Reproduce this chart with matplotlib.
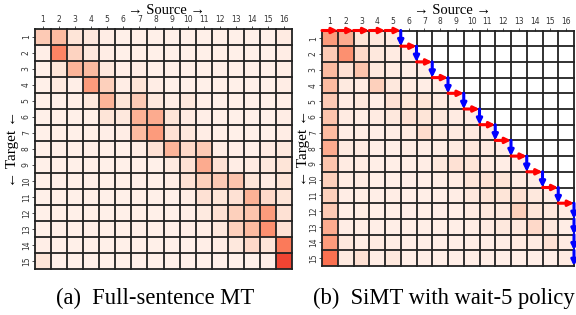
import numpy as np
import matplotlib
matplotlib.use("Agg")
import matplotlib.pyplot as plt

# ---------------- data ----------------
src_labels = [str(i) for i in range(1, 17)]
tgt_labels = [str(i) for i in range(1, 16)]

full_attn = [
    [0.20, 0.25, 0.10, 0.08, 0.05, 0.03, 0.03, 0.03, 0.03, 0.03, 0.03, 0.03, 0.03, 0.03, 0.03, 0.06],
    [0.04, 0.42, 0.17, 0.08, 0.05, 0.03, 0.03, 0.03, 0.03, 0.03, 0.03, 0.03, 0.03, 0.03, 0.03, 0.05],
    [0.03, 0.10, 0.27, 0.25, 0.08, 0.04, 0.05, 0.03, 0.03, 0.03, 0.03, 0.03, 0.03, 0.03, 0.03, 0.05],
    [0.03, 0.07, 0.04, 0.35, 0.18, 0.05, 0.10, 0.05, 0.03, 0.03, 0.03, 0.03, 0.03, 0.03, 0.03, 0.05],
    [0.03, 0.03, 0.04, 0.08, 0.27, 0.10, 0.20, 0.08, 0.05, 0.08, 0.04, 0.03, 0.03, 0.03, 0.03, 0.04],
    [0.03, 0.03, 0.03, 0.03, 0.10, 0.08, 0.28, 0.30, 0.10, 0.06, 0.04, 0.03, 0.03, 0.03, 0.03, 0.05],
    [0.03, 0.03, 0.03, 0.03, 0.04, 0.05, 0.25, 0.35, 0.12, 0.08, 0.05, 0.03, 0.03, 0.03, 0.03, 0.05],
    [0.03, 0.03, 0.03, 0.03, 0.03, 0.03, 0.05, 0.12, 0.27, 0.15, 0.20, 0.05, 0.04, 0.03, 0.06, 0.08],
    [0.03, 0.03, 0.03, 0.03, 0.03, 0.03, 0.03, 0.03, 0.07, 0.12, 0.30, 0.12, 0.05, 0.06, 0.08, 0.10],
    [0.03, 0.03, 0.03, 0.03, 0.03, 0.03, 0.03, 0.03, 0.05, 0.12, 0.18, 0.20, 0.22, 0.10, 0.06, 0.10],
    [0.03, 0.03, 0.03, 0.03, 0.03, 0.03, 0.03, 0.03, 0.03, 0.05, 0.12, 0.10, 0.12, 0.28, 0.15, 0.10],
    [0.03, 0.03, 0.03, 0.03, 0.03, 0.03, 0.03, 0.03, 0.03, 0.04, 0.07, 0.12, 0.18, 0.22, 0.35, 0.12],
    [0.03, 0.03, 0.03, 0.03, 0.03, 0.03, 0.03, 0.03, 0.03, 0.04, 0.05, 0.08, 0.18, 0.25, 0.38, 0.12],
    [0.04, 0.03, 0.03, 0.03, 0.03, 0.03, 0.03, 0.03, 0.03, 0.03, 0.04, 0.05, 0.08, 0.15, 0.10, 0.45],
    [0.10, 0.03, 0.03, 0.03, 0.03, 0.03, 0.03, 0.03, 0.03, 0.03, 0.03, 0.03, 0.03, 0.03, 0.04, 0.60],
]

N = None
simt_attn = [
    [0.35, 0.30, 0.10, 0.08, 0.06, N, N, N, N, N, N, N, N, N, N, N],
    [0.20, 0.38, 0.15, 0.08, 0.06, 0.05, N, N, N, N, N, N, N, N, N, N],
    [0.25, 0.12, 0.22, 0.08, 0.06, 0.05, 0.05, N, N, N, N, N, N, N, N, N],
    [0.25, 0.07, 0.06, 0.18, 0.08, 0.06, 0.05, 0.04, N, N, N, N, N, N, N, N],
    [0.20, 0.06, 0.08, 0.05, 0.12, 0.10, 0.10, 0.06, 0.05, N, N, N, N, N, N, N],
    [0.22, 0.06, 0.05, 0.06, 0.08, 0.12, 0.10, 0.08, 0.06, 0.05, N, N, N, N, N, N],
    [0.25, 0.05, 0.05, 0.04, 0.05, 0.06, 0.14, 0.08, 0.07, 0.07, 0.05, N, N, N, N, N],
    [0.30, 0.07, 0.06, 0.04, 0.04, 0.05, 0.05, 0.05, 0.07, 0.08, 0.06, 0.05, N, N, N, N],
    [0.22, 0.06, 0.06, 0.04, 0.04, 0.04, 0.05, 0.08, 0.12, 0.10, 0.06, 0.05, 0.05, N, N, N],
    [0.18, 0.06, 0.06, 0.04, 0.04, 0.04, 0.04, 0.05, 0.06, 0.10, 0.12, 0.10, 0.06, 0.05, N, N],
    [0.18, 0.05, 0.05, 0.04, 0.05, 0.04, 0.04, 0.04, 0.05, 0.08, 0.10, 0.10, 0.12, 0.08, 0.05, N],
    [0.20, 0.05, 0.05, 0.04, 0.04, 0.04, 0.04, 0.04, 0.04, 0.06, 0.08, 0.08, 0.18, 0.10, 0.08, 0.06],
    [0.30, 0.05, 0.05, 0.04, 0.04, 0.04, 0.04, 0.04, 0.04, 0.05, 0.06, 0.08, 0.08, 0.15, 0.08, 0.05],
    [0.35, 0.08, 0.05, 0.06, 0.05, 0.04, 0.04, 0.04, 0.04, 0.04, 0.04, 0.05, 0.06, 0.06, 0.12, 0.06],
    [0.48, 0.07, 0.12, 0.05, 0.08, 0.04, 0.04, 0.04, 0.04, 0.04, 0.04, 0.04, 0.04, 0.04, 0.04, 0.06],
]

wait_k = 5
titles = ["(a)  Full-sentence MT", "(b)  SiMT with wait-5 policy"]

# ---------------- plotting ----------------
W, H = 576, 315
fig = plt.figure(figsize=(W / 100, H / 100), dpi=100)
serif = ["Liberation Serif", "DejaVu Serif"]
cmap = plt.get_cmap("Reds")


def px_axes(x0, y0, x1, y1):
    return fig.add_axes([x0 / W, 1 - y1 / H, (x1 - x0) / W, (y1 - y0) / H])


def draw_heat(ax, data, label_x_px, ax_x0, ax_w):
    arr = np.array([[np.nan if v is None else v for v in row] for row in data], dtype=float)
    m = np.ma.masked_invalid(arr)
    nr, nc = arr.shape
    ax.pcolormesh(np.arange(nc + 1), np.arange(nr + 1), m, cmap=cmap, vmin=0, vmax=1)
    ax.set_xlim(0, nc)
    ax.set_ylim(nr, 0)
    for x in range(nc + 1):
        ax.plot([x, x], [0, nr], color="#222222", lw=1.3, clip_on=False, zorder=3)
    for y in range(nr + 1):
        ax.plot([0, nc], [y, y], color="#222222", lw=1.3, clip_on=False, zorder=3)
    for s in ax.spines.values():
        s.set_visible(False)
    ax.xaxis.tick_top()
    ax.set_xticks(np.arange(nc) + 0.5)
    ax.set_xticklabels(src_labels[:nc], fontsize=5.5)
    ax.set_yticks(np.arange(nr) + 0.5)
    ax.set_yticklabels(tgt_labels[:nr], fontsize=5.5, rotation=90, va="center")
    ax.tick_params(axis="x", length=2, width=0.6, pad=1.5, colors="#333333")
    ax.tick_params(axis="y", length=2, width=0.6, pad=1, colors="#333333")
    ax.set_ylabel("← Target ←", fontsize=11, family=serif)
    ax.yaxis.set_label_coords((label_x_px - ax_x0) / ax_w, 0.5)
    return nr, nc


ax1 = px_axes(35, 29, 292, 269)
draw_heat(ax1, full_attn, 19, 35, 257)
fig.text(167 / W, 1 - 10 / H, "→ Source →", ha="center", va="center", fontsize=10.5, family=serif)

ax2 = px_axes(322, 30.5, 574, 266)
nr, nc = draw_heat(ax2, simt_attn, 310, 322, 252)
fig.text(452 / W, 1 - 11 / H, "→ Source →", ha="center", va="center", fontsize=10.5, family=serif)


# wait-k policy path: READ (red, right) and WRITE (blue, down)
def arrow(ax, p0, p1, color):
    ax.annotate("", xy=p1, xytext=p0,
                arrowprops=dict(arrowstyle="-|>", color=color, lw=2.2,
                                mutation_scale=8, shrinkA=0, shrinkB=0),
                annotation_clip=False, zorder=5)


x, y = 0, 0
for t in range(nr):
    target_read = min(wait_k + t, nc)
    while x < target_read:
        arrow(ax2, (x, y), (x + 1, y), "red")
        x += 1
    arrow(ax2, (x, y), (x, y + 1), "blue")
    y += 1

fig.text(155 / W, 1 - 298 / H, titles[0], ha="center", va="center", fontsize=16.3, family=serif)
fig.text(444 / W, 1 - 298 / H, titles[1], ha="center", va="center", fontsize=16.3, family=serif)

fig.savefig("out.png", dpi=100)
